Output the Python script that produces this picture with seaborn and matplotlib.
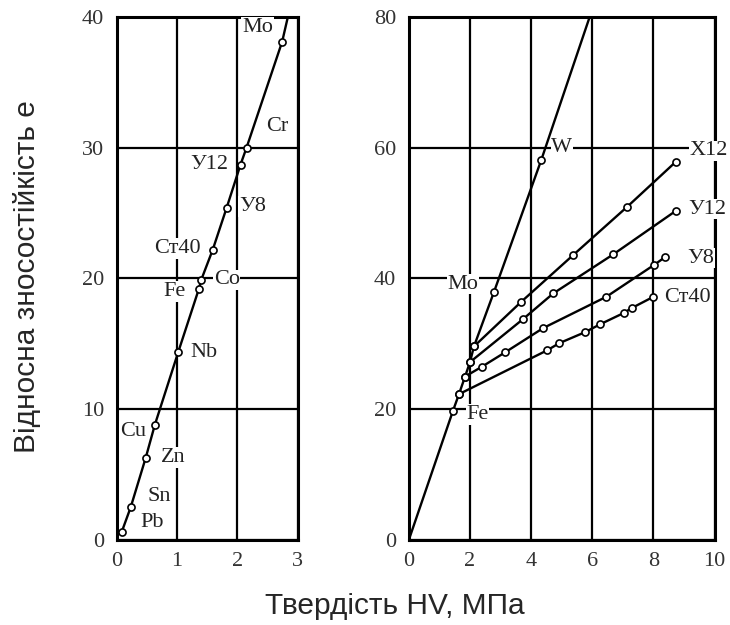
import matplotlib
matplotlib.use("Agg")
import matplotlib.pyplot as plt
import seaborn as sns
import numpy as np

# left panel: pure metals + steels, e vs HV (x10^3 MPa)
left_names = ["Pb", "Sn", "Zn", "Cu", "Nb", "Fe", "Co", "Ст40", "У8", "У12", "Cr", "Mo"]
left_hv = [0.08, 0.23, 0.48, 0.63, 1.02, 1.36, 1.40, 1.59, 1.82, 2.05, 2.15, 2.74]
left_e = [0.6, 2.5, 6.3, 8.8, 14.4, 19.2, 19.9, 22.2, 25.4, 28.7, 30.0, 38.1]
left_end_hv = 2.86   # line runs out of the top of the box
left_end_e = 40.5

# label positions (text centre) for the left panel
left_lab_hv = [0.58, 0.71, 0.93, 0.27, 1.45, 0.96, 1.82, 1.00, 2.25, 1.54, 2.66, 2.33]
left_lab_e = [1.3, 3.3, 6.3, 8.3, 14.3, 19.0, 19.9, 22.3, 25.5, 28.7, 31.6, 39.2]

# right panel: main line through the origin, Fe, Mo, W
main_hv = [0, 1.44, 1.64, 1.84, 2.00, 2.13, 2.79, 4.33, 5.95]
main_e = [0, 19.7, 22.3, 25.0, 27.2, 29.6, 38.0, 58.1, 80.5]

# heat-treated steels branching off the main line
x12_hv = [2.13, 3.67, 5.38, 7.15, 8.72]
x12_e = [29.6, 36.4, 43.6, 51.0, 57.8]
u12_hv = [2.00, 3.74, 4.72, 6.69, 8.72]
u12_e = [27.2, 33.8, 37.7, 43.7, 50.3]
u8_hv = [1.84, 2.39, 3.15, 4.39, 6.46, 8.03, 8.39]
u8_e = [25.0, 26.5, 28.7, 32.4, 37.2, 42.1, 43.3]
st40_hv = [1.64, 4.52, 4.92, 5.77, 6.26, 7.02, 7.30, 8.00]
st40_e = [22.3, 29.0, 30.1, 31.8, 33.0, 34.7, 35.5, 37.2]

right_names = ["Fe", "Mo", "W", "Х12", "У12", "У8", "Ст40"]
right_lab_hv = [2.25, 1.77, 5.0, 9.8, 9.77, 9.54, 9.1]
right_lab_e = [19.2, 39.1, 60.0, 59.5, 50.6, 43.1, 37.1]

xlabel = "Твердість HV, МПа"
ylabel = "Відносна зносостійкість е"

sns.set_style("white")
plt.rcParams["font.family"] = ["Liberation Serif", "DejaVu Serif"]

fig = plt.figure(figsize=(7.3, 6.25), dpi=100)
ax1 = fig.add_axes([0.160, 0.136, 0.248, 0.837])
ax2 = fig.add_axes([0.560, 0.136, 0.419, 0.837])

mk = dict(marker="o", s=26, facecolor="white", edgecolor="black", linewidth=1.2, zorder=5)
ln = dict(color="black", linewidth=1.7, sort=False, estimator=None, zorder=4)
txt = dict(fontsize=16, color="#222222", ha="center", va="center", zorder=3,
           bbox=dict(facecolor="white", edgecolor="none", pad=0.5))


def style_axes(ax, xt, yt):
    ax.set_xticks(xt)
    ax.set_yticks(yt)
    ax.set_xlim(xt[0], xt[-1])
    ax.set_ylim(yt[0], yt[-1])
    ax.grid(True, color="black", linewidth=1.6)
    ax.set_axisbelow(True)
    for s in ax.spines.values():
        s.set_color("black")
        s.set_linewidth(2.2)
    ax.tick_params(length=0, pad=9, labelsize=16, labelcolor="#333333")
    ax.set_xlabel("")
    ax.set_ylabel("")


# left
sns.lineplot(x=left_hv + [left_end_hv], y=left_e + [left_end_e], ax=ax1, **ln)
sns.scatterplot(x=left_hv, y=left_e, ax=ax1, **mk)
for n, x, y in zip(left_names, left_lab_hv, left_lab_e):
    ax1.text(x, y, n, **txt)
style_axes(ax1, [0, 1, 2, 3], [0, 10, 20, 30, 40])

# right
sns.lineplot(x=main_hv, y=main_e, ax=ax2, **ln)
sns.scatterplot(x=main_hv[1:-1], y=main_e[1:-1], ax=ax2, **mk)
for hv, e in [(x12_hv, x12_e), (u12_hv, u12_e), (u8_hv, u8_e), (st40_hv, st40_e)]:
    sns.lineplot(x=hv, y=e, ax=ax2, **ln)
    sns.scatterplot(x=hv, y=e, ax=ax2, **mk)
for n, x, y in zip(right_names, right_lab_hv, right_lab_e):
    ax2.text(x, y, n, **txt)
style_axes(ax2, [0, 2, 4, 6, 8, 10], [0, 20, 40, 60, 80])

fig.text(0.541, 0.030, xlabel, ha="center", va="center", fontsize=21.5,
         family=["Liberation Sans", "DejaVu Sans"])
fig.text(0.037, 0.558, ylabel, ha="center", va="center", rotation=90, fontsize=21.5,
         family=["Liberation Sans", "DejaVu Sans"])

fig.savefig("out.png", dpi=100)
